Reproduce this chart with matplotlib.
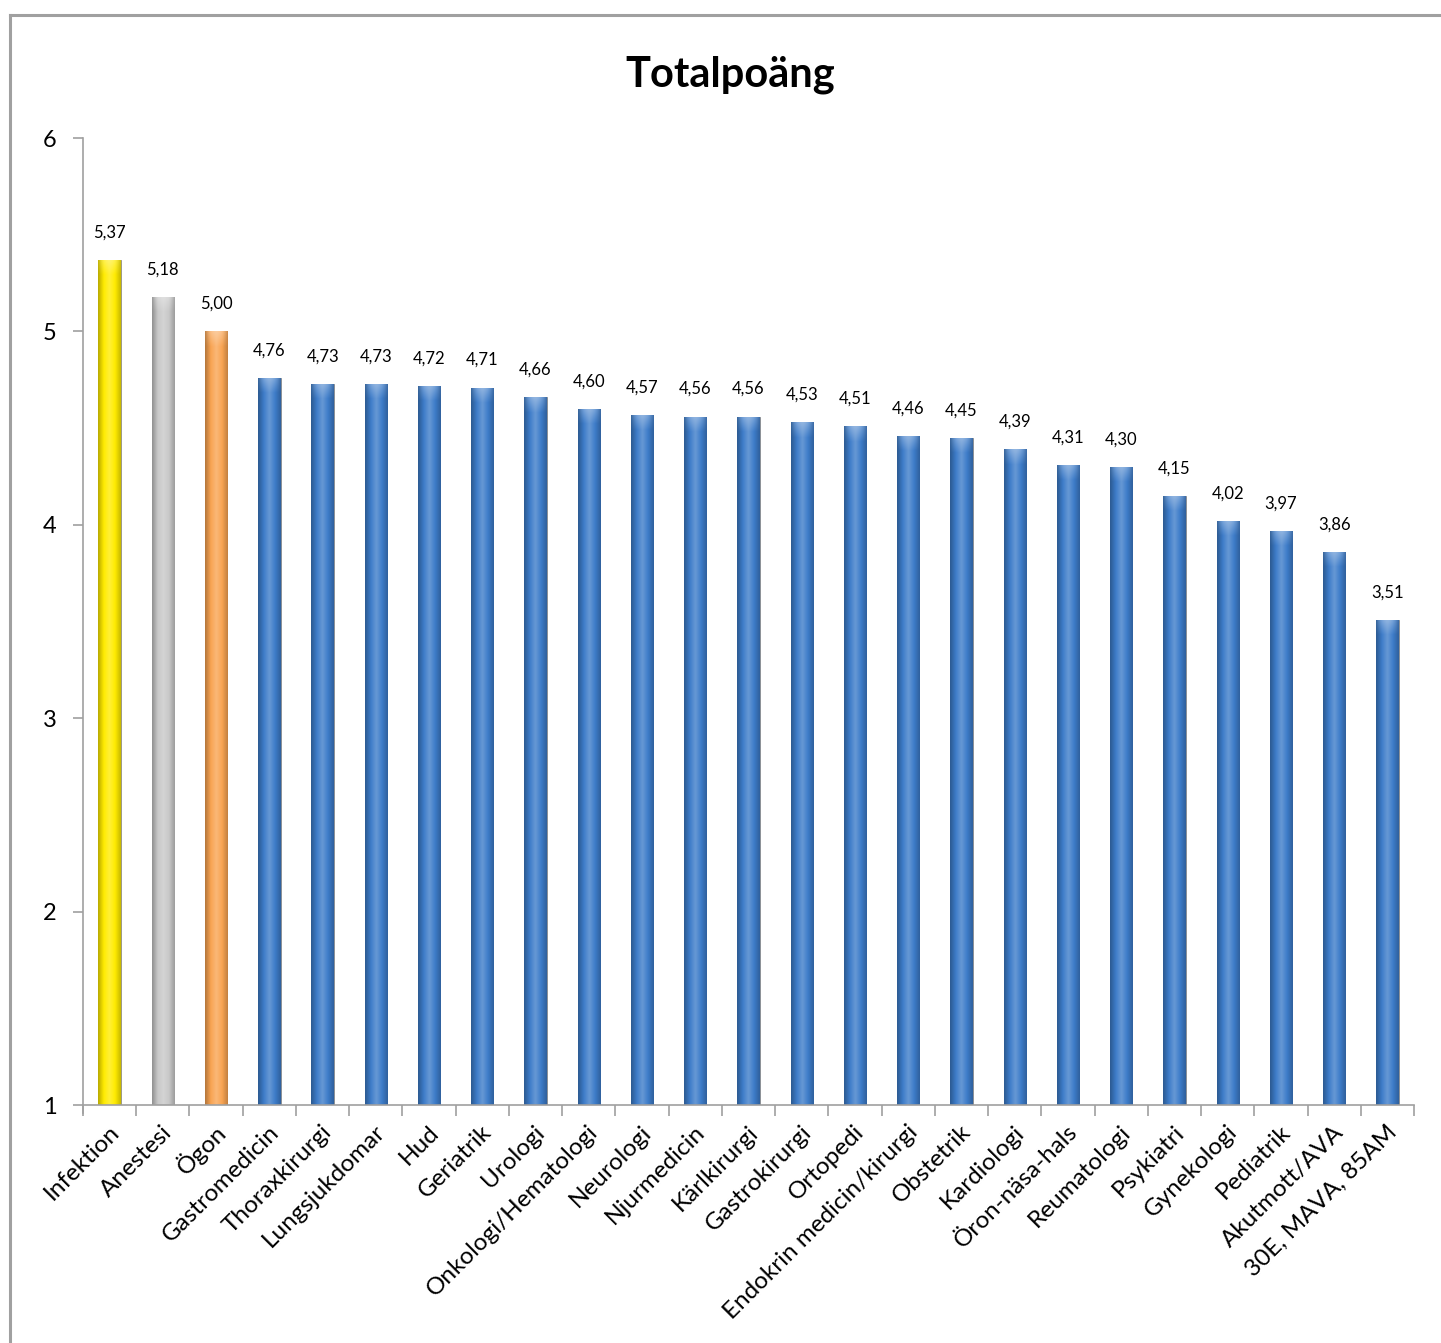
import matplotlib
matplotlib.use("Agg")
import matplotlib.pyplot as plt
import matplotlib.transforms as mtransforms
import numpy as np
from matplotlib.colors import LinearSegmentedColormap, to_rgb
from matplotlib.lines import Line2D

plt.rcParams["font.family"] = ["Lato", "DejaVu Sans"]

labels = ["Infektion", "Anestesi", "Ögon", "Gastromedicin", "Thoraxkirurgi",
          "Lungsjukdomar", "Hud", "Geriatrik", "Urologi", "Onkologi/Hematologi",
          "Neurologi", "Njurmedicin", "Kärlkirurgi", "Gastrokirurgi", "Ortopedi",
          "Endokrin medicin/kirurgi", "Obstetrik", "Kardiologi", "Öron-näsa-hals",
          "Reumatologi", "Psykiatri", "Gynekologi", "Pediatrik", "Akutmott/AVA",
          "30E, MAVA, 85AM"]
values = [5.37, 5.18, 5.00, 4.76, 4.73, 4.73, 4.72, 4.71, 4.66, 4.60, 4.57,
          4.56, 4.56, 4.53, 4.51, 4.46, 4.45, 4.39, 4.31, 4.30, 4.15, 4.02,
          3.97, 3.86, 3.51]
highlight = {0: "#FFEB00", 1: "#C8C8C8", 2: "#F9A452"}
base_blue = "#3D7CC9"
y_base = 1


def shade(color, f):
    r, g, b = to_rgb(color)
    if f < 1:
        return (r * f, g * f, b * f)
    f = f - 1
    return (r + (1 - r) * f, g + (1 - g) * f, b + (1 - b) * f)


fig = plt.figure(figsize=(14.41, 13.43), dpi=100)
ax = fig.add_axes([0.0576, 0.1772, 0.9237, 0.72])

x = np.arange(len(values))
colors = [highlight.get(i, base_blue) for i in x]
heights = [v - y_base for v in values]
bars = ax.bar(x, heights, bottom=y_base, width=0.42, color=colors,
              edgecolor="#8A8A8A", linewidth=0.6, zorder=2)

# horizontal gradient inside each bar to mimic the bevelled look
grad = np.linspace(0, 1, 64).reshape(1, -1)
for bar, c in zip(bars, colors):
    cmap = LinearSegmentedColormap.from_list(
        "b", [shade(c, 0.72), shade(c, 1.0), shade(c, 1.22), shade(c, 1.0), shade(c, 0.78)])
    x0, y0 = bar.get_x(), bar.get_y()
    w, h = bar.get_width(), bar.get_height()
    im = ax.imshow(grad, extent=(x0, x0 + w, y0, y0 + h), aspect="auto",
                   cmap=cmap, zorder=2.5, interpolation="bicubic")
    im.set_clip_path(bar)
    # soft light cap at the top, fading downwards
    cap = np.ones((32, 32, 4))
    cap[..., :3] = shade(c, 1.5)
    fade = np.linspace(0.8, 0.0, 32).reshape(-1, 1)
    across = np.sin(np.linspace(0.15, np.pi - 0.15, 32)).reshape(1, -1)
    cap[..., 3] = fade * across
    im2 = ax.imshow(cap, extent=(x0, x0 + w, y0 + h - 0.08, y0 + h),
                    aspect="auto", zorder=2.6, interpolation="bicubic")
    im2.set_clip_path(bar)

for xi, v in zip(x, values):
    ax.annotate(f"{v:.2f}".replace(".", ","), (xi, v), xytext=(0, 14),
                textcoords="offset points", ha="center", va="bottom",
                fontsize=12, color="#000000")

ax.set_xlim(-0.5, len(values) - 0.5)
ax.set_ylim(1, 6)
ax.set_yticks([1, 2, 3, 4, 5, 6])
ax.set_xticks(np.arange(len(values) + 1) - 0.5)
ax.set_xticklabels([])
ax.set_xticks(x, labels, minor=True)
ax.tick_params(axis="x", which="major", length=8, color="#A0A0A0", width=1.2)
ax.tick_params(axis="x", which="minor", length=0, pad=17, labelsize=17.5)
ax.tick_params(axis="y", length=7, color="#A0A0A0", width=1.2, labelsize=17, pad=12)
shift = mtransforms.ScaledTranslation(6 / 100, 0, fig.dpi_scale_trans)
for lbl in ax.get_xticklabels(minor=True):
    lbl.set_rotation(45)
    lbl.set_ha("right")
    lbl.set_va("center")
    lbl.set_rotation_mode("anchor")
    lbl.set_transform(lbl.get_transform() + shift)

for s in ("top", "right"):
    ax.spines[s].set_visible(False)
for s in ("left", "bottom"):
    ax.spines[s].set_color("#A0A0A0")
    ax.spines[s].set_linewidth(1.2)
ax.spines["left"].set_bounds(0.96, 6)

fig.text(0.507, 0.944, "Totalpoäng", ha="center", va="center",
         fontsize=30, fontweight="bold")

# outer chart frame (left and top edges visible)
fig.add_artist(Line2D([0.0066, 0.0066], [0, 0.989], color="#A0A0A0", lw=2.2))
fig.add_artist(Line2D([0.0066, 1], [0.989, 0.989], color="#A0A0A0", lw=2.2))

fig.savefig("out.png", dpi=100)
